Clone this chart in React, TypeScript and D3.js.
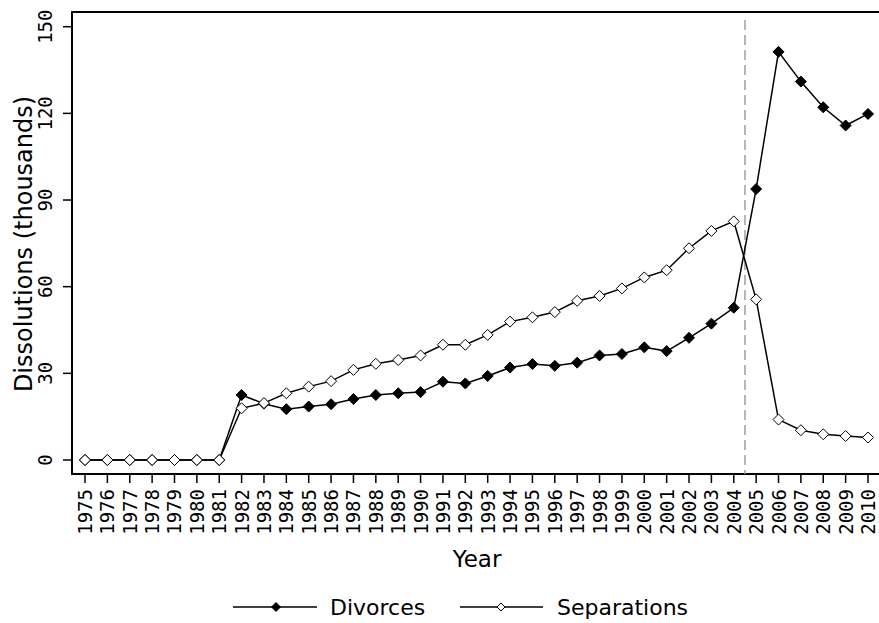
import React from "react";
import * as d3 from "d3";

const years: number[] = d3.range(1975, 2011);
const divorces: number[] = [
  0, 0, 0, 0, 0, 0, 0,
  22.5, 19.5, 17.6, 18.5, 19.3, 21.1, 22.5, 23.1, 23.5,
  27.1, 26.5, 29.1, 32.0, 33.2, 32.6, 33.7, 36.2, 36.7, 39.0,
  37.7, 42.3, 47.2, 52.7, 93.8, 141.3, 131.0, 122.1, 115.8, 119.8,
];
const separations: number[] = [
  0, 0, 0, 0, 0, 0, 0,
  17.9, 19.7, 23.1, 25.4, 27.3, 31.2, 33.3, 34.6, 36.2,
  39.9, 39.9, 43.3, 47.9, 49.4, 51.2, 55.1, 56.8, 59.4, 63.2,
  65.7, 73.3, 79.3, 82.6, 55.6, 14.0, 10.3, 8.9, 8.3, 7.8,
];
const yTicks: number[] = [0, 30, 60, 90, 120, 150];
const breakYear = 2004.5;
const seriesNames = ["Divorces", "Separations"];

const W = 879;
const H = 623;
const left = 72;
const top = 12;
const bottom = 474;
const right = 884;

const x = d3.scaleLinear().domain([1975, 2010]).range([85, 868]);
const y = d3.scaleLinear().domain([0, 150]).range([460, 26.7]);

const diamond = (cx: number, cy: number, r: number) =>
  `M${cx},${cy - r}L${cx + r},${cy}L${cx},${cy + r}L${cx - r},${cy}Z`;

export default function App() {
  const line = d3
    .line<number>()
    .x((_, i) => x(years[i]))
    .y((v) => y(v));
  const mono = "'DejaVu Sans Mono', monospace";
  const sans = "'DejaVu Sans', sans-serif";
  return (
    <svg
      width={W}
      height={H}
      style={{ position: "absolute", left: 0, top: 0, background: "#fff" }}
    >
      <rect x={0} y={0} width={W} height={H} fill="#fff" />
      <rect
        x={left}
        y={top}
        width={right - left}
        height={bottom - top}
        fill="none"
        stroke="#000"
        strokeWidth={2}
      />
      <line
        x1={x(breakYear)}
        x2={x(breakYear)}
        y1={20}
        y2={bottom}
        stroke="#a0a0a0"
        strokeWidth={1.5}
        strokeDasharray="10,5"
      />
      {yTicks.map((t) => (
        <g key={t}>
          <line x1={63} x2={left} y1={y(t)} y2={y(t)} stroke="#000" strokeWidth={1.5} />
          <text
            transform={`translate(52,${y(t)}) rotate(-90)`}
            textAnchor="middle"
            fontFamily={mono}
            fontSize={19}
            fill="#000"
          >
            {t}
          </text>
        </g>
      ))}
      {years.map((yr) => (
        <g key={yr}>
          <line x1={x(yr)} x2={x(yr)} y1={bottom} y2={483} stroke="#000" strokeWidth={1.5} />
          <text
            transform={`translate(${x(yr) + 7},489) rotate(-90)`}
            textAnchor="end"
            fontFamily={mono}
            fontSize={19}
            fill="#000"
          >
            {yr}
          </text>
        </g>
      ))}
      <text
        transform={`translate(32,244) rotate(-90)`}
        textAnchor="middle"
        fontFamily={sans}
        fontSize={24}
        fill="#000"
      >
        Dissolutions (thousands)
      </text>
      <text x={477} y={567} textAnchor="middle" fontFamily={sans} fontSize={23} fill="#000">
        Year
      </text>
      <path d={line(divorces) || ""} fill="none" stroke="#000" strokeWidth={1.5} />
      {divorces.map((v, i) => (
        <path key={"d" + i} d={diamond(x(years[i]), y(v), 5.5)} fill="#000" stroke="#000" strokeWidth={1} />
      ))}
      <path d={line(separations) || ""} fill="none" stroke="#000" strokeWidth={1.5} />
      {separations.map((v, i) => (
        <path key={"s" + i} d={diamond(x(years[i]), y(v), 5.5)} fill="#fff" stroke="#000" strokeWidth={1} />
      ))}
      <g>
        <line x1={233} x2={317} y1={607} y2={607} stroke="#000" strokeWidth={1.5} />
        <path d={diamond(276, 607, 4.5)} fill="#000" stroke="#000" />
        <text x={330} y={615} fontFamily={sans} fontSize={22} fill="#000">
          {seriesNames[0]}
        </text>
        <line x1={460} x2={543} y1={607} y2={607} stroke="#000" strokeWidth={1.5} />
        <path d={diamond(501, 607, 4)} fill="#fff" stroke="#000" />
        <text x={557} y={615} fontFamily={sans} fontSize={22} fill="#000">
          {seriesNames[1]}
        </text>
      </g>
    </svg>
  );
}
